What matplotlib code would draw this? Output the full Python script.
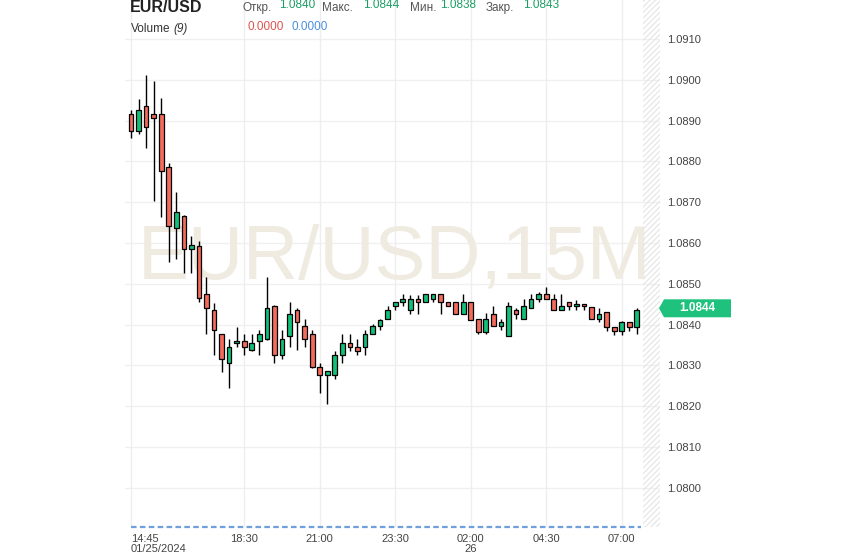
import matplotlib
matplotlib.use("Agg")
import matplotlib.pyplot as plt
import numpy as np
from matplotlib.patches import Rectangle, Polygon

plt.rcParams['font.family'] = ['Liberation Sans', 'DejaVu Sans']
plt.rcParams['hatch.linewidth'] = 0.8

# ---------------- data ----------------
opens = [1.08916, 1.08875, 1.08936, 1.08916, 1.08916, 1.08786, 1.08636, 1.08665, 1.08585, 1.08593,
         1.08474, 1.08435, 1.08376, 1.08305, 1.08354, 1.08359, 1.08339, 1.08359, 1.08364, 1.08445,
         1.08325, 1.08371, 1.08435, 1.08396, 1.08376, 1.08295, 1.08276, 1.08276, 1.08325, 1.08354,
         1.08344, 1.08344, 1.08376, 1.08396, 1.08415, 1.08445, 1.08455, 1.08435, 1.08464, 1.08455,
         1.08464, 1.08474, 1.08455, 1.08455, 1.08425, 1.08455, 1.08415, 1.08381, 1.08425, 1.08396,
         1.08371, 1.08435, 1.08413, 1.08440, 1.08464, 1.08474, 1.08464, 1.08435, 1.08455, 1.08446,
         1.08450, 1.08444, 1.08415, 1.08430, 1.08395, 1.08385, 1.08406, 1.08395]
highs = [1.08926, 1.08954, 1.09012, 1.08997, 1.08955, 1.08795, 1.08726, 1.08668, 1.08617, 1.08606,
         1.08516, 1.08454, 1.08378, 1.08364, 1.08395, 1.08376, 1.08376, 1.08388, 1.08516, 1.08447,
         1.08386, 1.08455, 1.08440, 1.08415, 1.08386, 1.08305, 1.08286, 1.08335, 1.08376, 1.08376,
         1.08364, 1.08386, 1.08402, 1.08415, 1.08445, 1.08455, 1.08474, 1.08472, 1.08472, 1.08474,
         1.08474, 1.08474, 1.08455, 1.08455, 1.08474, 1.08455, 1.08415, 1.08428, 1.08445, 1.08415,
         1.08455, 1.08440, 1.08464, 1.08474, 1.08479, 1.08491, 1.08474, 1.08474, 1.08455, 1.08460,
         1.08450, 1.08444, 1.08440, 1.08430, 1.08395, 1.08410, 1.08406, 1.08440]
lows = [1.08857, 1.08866, 1.08834, 1.08704, 1.08664, 1.08554, 1.08560, 1.08526, 1.08526, 1.08455,
        1.08376, 1.08325, 1.08285, 1.08244, 1.08344, 1.08325, 1.08335, 1.08325, 1.08362, 1.08305,
        1.08315, 1.08344, 1.08339, 1.08344, 1.08293, 1.08233, 1.08205, 1.08266, 1.08305, 1.08335,
        1.08325, 1.08325, 1.08376, 1.08386, 1.08415, 1.08435, 1.08445, 1.08425, 1.08425, 1.08455,
        1.08455, 1.08425, 1.08445, 1.08425, 1.08425, 1.08411, 1.08376, 1.08376, 1.08396, 1.08386,
        1.08371, 1.08415, 1.08413, 1.08440, 1.08455, 1.08464, 1.08435, 1.08435, 1.08435, 1.08435,
        1.08435, 1.08415, 1.08406, 1.08385, 1.08375, 1.08375, 1.08385, 1.08378]
closes = [1.08875, 1.08925, 1.08885, 1.08906, 1.08776, 1.08642, 1.08675, 1.08585, 1.08594, 1.08465,
          1.08440, 1.08386, 1.08315, 1.08344, 1.08359, 1.08344, 1.08354, 1.08376, 1.08440, 1.08325,
          1.08364, 1.08425, 1.08406, 1.08364, 1.08295, 1.08276, 1.08286, 1.08325, 1.08354, 1.08344,
          1.08335, 1.08376, 1.08396, 1.08411, 1.08435, 1.08455, 1.08464, 1.08464, 1.08455, 1.08474,
          1.08474, 1.08455, 1.08445, 1.08425, 1.08455, 1.08411, 1.08381, 1.08415, 1.08396, 1.08406,
          1.08445, 1.08425, 1.08445, 1.08464, 1.08474, 1.08464, 1.08435, 1.08445, 1.08446, 1.08450,
          1.08446, 1.08415, 1.08425, 1.08395, 1.08385, 1.08406, 1.08395, 1.08435]
volumes = [0.0] * len(opens)

time_tick_pos = [0, 15, 25, 35, 45, 55, 65]
time_tick_labels = ["14:45\n01/25/2024", "18:30", "21:00", "23:30", "02:00\n26", "04:30", "07:00"]
price_ticks = [1.0800, 1.0810, 1.0820, 1.0830, 1.0840, 1.0850, 1.0860, 1.0870, 1.0880, 1.0890, 1.0900, 1.0910]
last_price = 1.0844

symbol = "EUR/USD"
ohlc_names = ["Откр.", "Макс.", "Мин.", "Закр."]
ohlc_values = ["1.0840", "1.0844", "1.0838", "1.0843"]
volume_values = ["0.0000", "0.0000"]
watermark = "EUR/USD,15M"

# ---------------- figure ----------------
W, H = 843, 558
fig = plt.figure(figsize=(W / 100, H / 100), dpi=100)
fig.patch.set_facecolor('white')

L, R, T, B = 125, 660, 0, 527
ax = fig.add_axes([L / W, (H - B) / H, (R - L) / W, (B - T) / H])
ax.set_facecolor('white')
for s in ax.spines.values():
    s.set_visible(False)

x = np.arange(len(opens))
ax.set_xlim(-0.795, 70.07)
ax.set_ylim(1.07904, 1.091956)

# grid
for p in price_ticks:
    ax.axhline(p, color='#f0f0f0', lw=1, zorder=0)
for t in time_tick_pos:
    ax.axvline(t, color='#eeeeee', lw=1, zorder=0)

# watermark
ax.text(0.504, 0.508, watermark, transform=ax.transAxes, ha='center', va='center',
        fontsize=55, color='#efebe1', zorder=1)

# hatched region at right
ax.add_patch(Rectangle(((643 - L) / (R - L), 0), (R - 643) / (R - L), 1, transform=ax.transAxes,
                       facecolor='none', edgecolor='#e4e4e4', hatch='//////', lw=0, zorder=1))

# candles
o = np.array(opens); c = np.array(closes); h = np.array(highs); l = np.array(lows)
up = c >= o
green = '#12c07a'
red = '#f46b5c'
colors = np.where(up, green, red)
ax.vlines(x, l, h, color='black', lw=1, zorder=3)
bottoms = np.minimum(o, c)
heights = np.maximum(np.abs(c - o), 0.00003)
ax.bar(x, heights, bottom=bottoms, width=0.62, color=colors, edgecolor='black', lw=0.9, zorder=4)

# axes ticks
ax.yaxis.tick_right()
ax.set_yticks(price_ticks)
ax.set_yticklabels([f"{p:.4f}" for p in price_ticks])
ax.tick_params(axis='y', length=0, pad=5, labelsize=8, labelcolor='#444444')
ax.set_xticks(time_tick_pos)
ax.set_xticklabels(time_tick_labels)
ax.tick_params(axis='x', length=0, pad=5, labelsize=8, labelcolor='#444444')
for i, lab in enumerate(ax.get_xticklabels()):
    lab.set_linespacing(0.95)
    if i == 0:
        lab.set_ha('left')
        lab.set_multialignment('left')
    else:
        lab.set_multialignment('center')

# volume pane (zero volume -> dashed line at bottom)
axv = fig.add_axes([L / W, (H - B) / H, (R - L) / W, 20 / H])
axv.set_xlim(ax.get_xlim())
axv.set_ylim(0, 1)
axv.axis('off')
axv.plot(np.append(x, x[-1] + 0.5), volumes + [0.0], color='#6fa0dc', lw=1.6, ls=(0, (2.5, 1.5)),
         clip_on=False, zorder=5)

# last price label
tr = ax.get_yaxis_transform()
hh = 9 / 40800.0
x0 = (659 - L) / (R - L); x1 = (664 - L) / (R - L); x2 = (731 - L) / (R - L)
ax.add_patch(Polygon([(x0, last_price), (x1, last_price + hh), (x2, last_price + hh),
                      (x2, last_price - hh), (x1, last_price - hh)], closed=True,
                     transform=tr, facecolor='#1fc27c', edgecolor='none', clip_on=False, zorder=6))
ax.text((697 - L) / (R - L), last_price, f"{last_price:.4f}", transform=tr, ha='center', va='center',
        color='white', fontsize=8.5, fontweight='bold', zorder=7, clip_on=False)

# header
def ftext(px, py, s, **kw):
    fig.text(px / W, 1 - py / H, s, va='center', **kw)

ftext(130, 8, symbol, fontsize=11.5, fontweight='bold', color='#222222')
name_x = [242, 322, 410, 486]
val_x = [279, 363, 440, 523]
for nx, vx, n, v in zip(name_x, val_x, ohlc_names, ohlc_values):
    ftext(nx, 8, n, fontsize=8.5, color='#555555')
    ftext(vx, 5.5, v, fontsize=8.5, color='#1a9e62')
ftext(131, 29, "Volume", fontsize=8.5, color='#333333')
ftext(173, 29, "(9)", fontsize=8.5, color='#333333', style='italic')
ftext(247, 27, volume_values[0], fontsize=8.5, color='#e0524f')
ftext(292, 27, volume_values[1], fontsize=8.5, color='#4a8fe0')

fig.savefig("out.png", dpi=100)
